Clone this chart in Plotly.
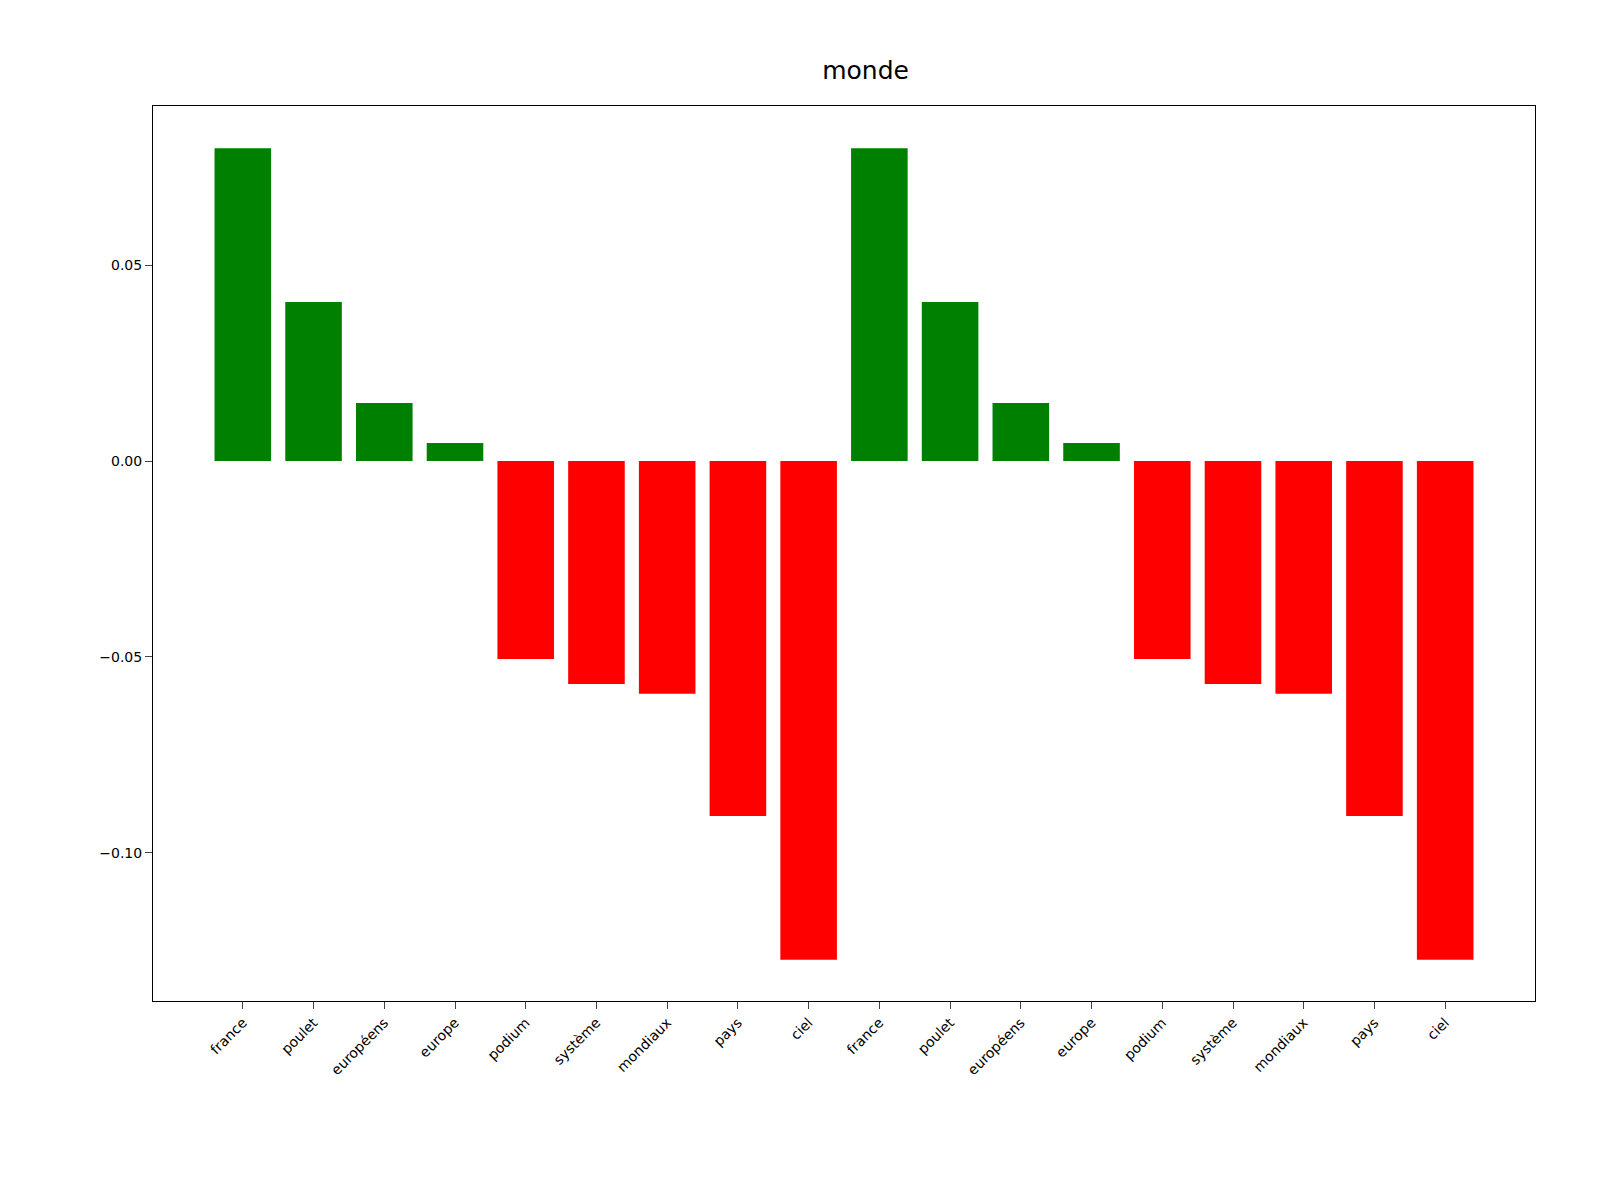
import plotly.graph_objects as go

words = ["france", "poulet", "européens", "europe", "podium", "système", "mondiaux", "pays", "ciel"]
vals = [0.0798, 0.0406, 0.0148, 0.0046, -0.0505, -0.0569, -0.0594, -0.0906, -0.1273]
labels = words + words
values = vals + vals
colors = ["green" if v > 0 else "red" for v in values]
xs = list(range(len(labels)))

fig = go.Figure(go.Bar(x=xs, y=values, marker_color=colors, marker_line_width=0, width=0.8))
fig.update_layout(
    width=1600, height=1200, plot_bgcolor="white", paper_bgcolor="white",
    margin=dict(l=145, r=73, t=98, b=207),
    title=dict(text="monde", x=0.536, xanchor="center", y=0.948, yanchor="middle",
               font=dict(family="DejaVu Sans", size=25, color="black")),
    font=dict(family="DejaVu Sans", size=14, color="black"),
    showlegend=False,
)
fig.update_xaxes(range=[-1.27, 18.27], tickmode="array", tickvals=xs, ticktext=labels,
                 tickangle=-45, ticks="outside", ticklen=7, showgrid=False, zeroline=False,
                 showline=True, linecolor="black", mirror=True)
fig.update_yaxes(range=[-0.1378, 0.0906], tickvals=[-0.10, -0.05, 0.0, 0.05],
                 ticktext=["−0.10", "−0.05", "0.00", "0.05"], ticks="outside", ticklen=7,
                 showgrid=False, zeroline=False, showline=True, linecolor="black", mirror=True)
fig.write_html("out.html")
